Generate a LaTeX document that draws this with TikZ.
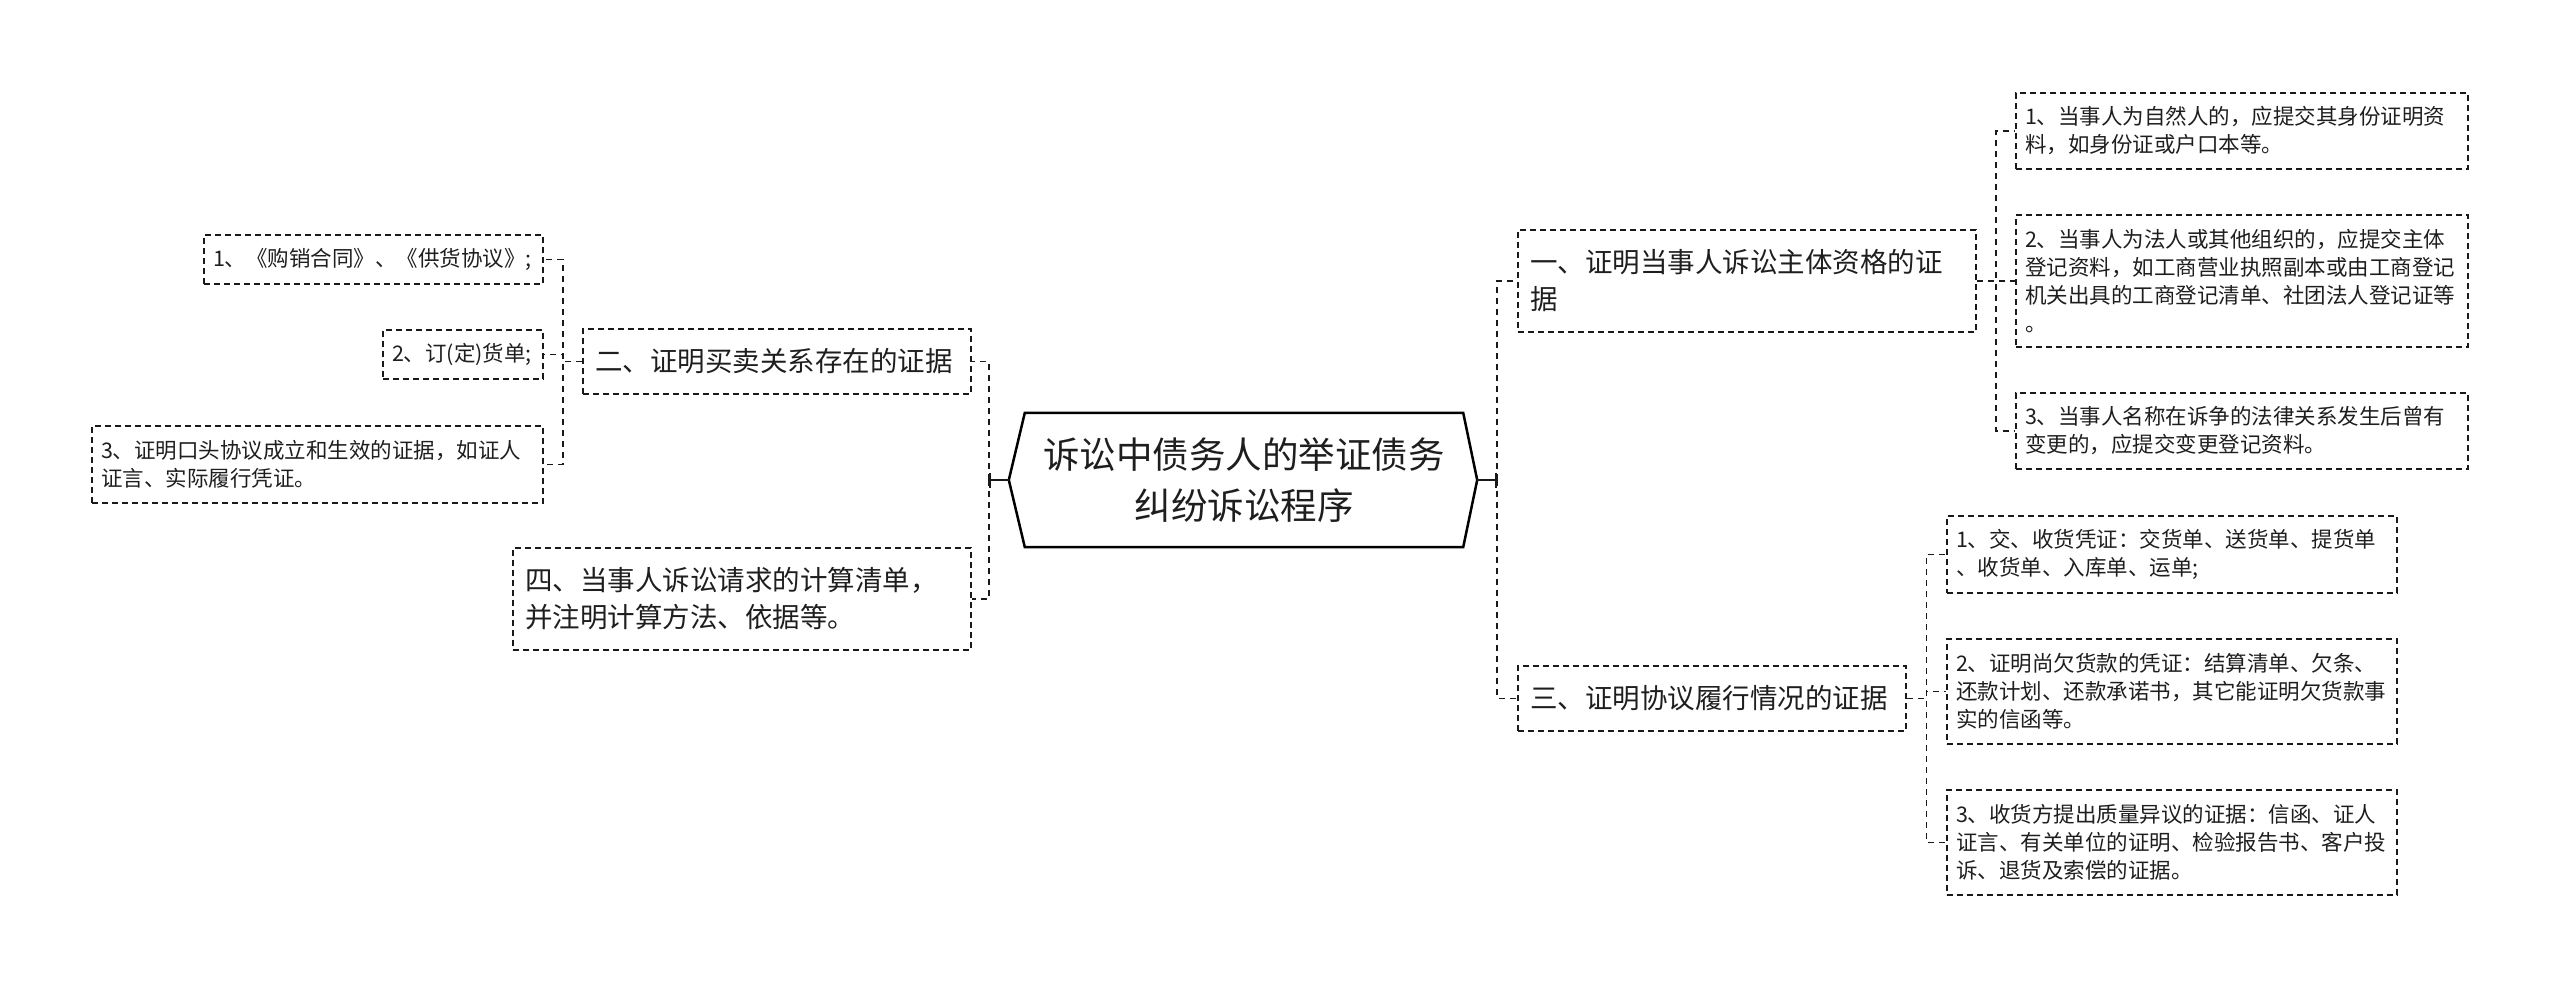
\documentclass[tikz,border=0pt]{standalone}
\usepackage{fontspec}
\setmainfont{Noto Sans CJK SC}
\usetikzlibrary{arrows.meta,positioning,calc}
\definecolor{myink}{RGB}{30,30,30}
\definecolor{myline}{RGB}{25,25,25}
\tikzset{
    link/.style     = {draw=myline, line width=1.8pt, dash pattern=on 6pt off 5pt},
    stem/.style     = {draw=myline, line width=2.2pt, -{Bar[width=15pt,line width=2pt]}},
    box/.style      = {draw=myline, line width=1.7pt, dash pattern=on 6pt off 4pt,
            text=myink, align=left, inner ysep=0pt},
    branch/.style   = {box, inner xsep=12pt, font=\fontsize{27.5}{37}\selectfont},
    leaf/.style     = {box, inner xsep=9pt, font=\fontsize{21.5}{28}\selectfont},
    rootbox/.style  = {text=myink, align=center, inner sep=0pt,
            font=\fontsize{36.5}{51}\selectfont},
    rootedge/.style = {draw=black, line width=2.5pt, line join=miter},
}

\begin{document}
\begin{tikzpicture}[x=1pt, y=-1pt]
    \useasboundingbox (0,0) rectangle (2560,987);

    % Root
    \node[rootbox, minimum width=438pt, minimum height=134pt] (root) at (1244,480)
        {诉讼中债务人的举证债务\\纠纷诉讼程序};
    \coordinate (rootL) at ($(root.west)+(-16,0)$);
    \coordinate (rootR) at ($(root.east)+(14,0)$);
    \draw[rootedge] (root.north west) -- (root.north east) -- (rootR)
        -- (root.south east) -- (root.south west) -- (rootL) -- cycle;
    \coordinate (jL) at ($(rootL)+(-20,0)$);
    \coordinate (jR) at ($(rootR)+(20,0)$);

    % Left branches
    \node[branch, text width=364pt, minimum height=65pt] (B2) at (777,361.5)
        {二、证明买卖关系存在的证据};
    \node[branch, text width=434pt, minimum height=102pt] (B4) at (742,599)
        {四、当事人诉讼请求的计算清单，\\并注明计算方法、依据等。};
    \node[leaf, text width=321pt, minimum height=49pt] (L1) at (373.5,259.5)
        {1、《购销合同》、《供货协议》;};
    \node[leaf, text width=142pt, minimum height=49pt] (L2) at (463,354.5)
        {2、订(定)货单;};
    \node[leaf, text width=433pt, minimum height=77pt] (L3) at (317.5,464.5)
        {3、证明口头协议成立和生效的证据，如证人\\证言、实际履行凭证。};

    % Right branches
    \node[branch, text width=434pt, minimum height=102pt] (B1) at (1747,281)
        {一、证明当事人诉讼主体资格的证\\据};
    \node[branch, text width=364pt, minimum height=65pt] (B3) at (1712,698.5)
        {三、证明协议履行情况的证据};
    \node[leaf, text width=434pt, minimum height=76pt] (R1a) at (2242,131)
        {1、当事人为自然人的，应提交其身份证明资\\料，如身份证或户口本等。};
    \node[leaf, text width=434pt, minimum height=132pt] (R1b) at (2242,281)
        {2、当事人为法人或其他组织的，应提交主体\\登记资料，如工商营业执照副本或由工商登记\\机关出具的工商登记清单、社团法人登记证等\\。};
    \node[leaf, text width=434pt, minimum height=76pt] (R1c) at (2242,431)
        {3、当事人名称在诉争的法律关系发生后曾有\\变更的，应提交变更登记资料。};
    \node[leaf, text width=432pt, minimum height=77pt] (R3a) at (2172,554.5)
        {1、交、收货凭证：交货单、送货单、提货单\\、收货单、入库单、运单;};
    \node[leaf, text width=432pt, minimum height=105pt] (R3b) at (2172,691.5)
        {2、证明尚欠货款的凭证：结算清单、欠条、\\还款计划、还款承诺书，其它能证明欠货款事\\实的信函等。};
    \node[leaf, text width=432pt, minimum height=105pt] (R3c) at (2172,842.5)
        {3、收货方提出质量异议的证据：信函、证人\\证言、有关单位的证明、检验报告书、客户投\\诉、退货及索偿的证据。};

    % Root connectors
    \draw[stem] (rootL) -- (jL);
    \draw[stem] (rootR) -- (jR);
    \draw[link] (jL) |- (B2.east);
    \draw[link] (jL) |- (B4.east);
    \draw[link] (jR) |- (B1.west);
    \draw[link] (jR) |- (B3.west);

    % Leaf connectors
    \draw[link] (B2.west) -| ($(B2.west)!.5!(L1.east)$) |- (L1.east);
    \draw[link] (B2.west) -| ($(B2.west)!.5!(L2.east)$) |- (L2.east);
    \draw[link] (B2.west) -| ($(B2.west)!.5!(L3.east)$) |- (L3.east);
    \draw[link] (B1.east) -| ($(B1.east)!.5!(R1a.west)$) |- (R1a.west);
    \draw[link] (B1.east) -| ($(B1.east)!.5!(R1b.west)$) |- (R1b.west);
    \draw[link] (B1.east) -| ($(B1.east)!.5!(R1c.west)$) |- (R1c.west);
    \draw[link] (B3.east) -| ($(B3.east)!.5!(R3a.west)$) |- (R3a.west);
    \draw[link] (B3.east) -| ($(B3.east)!.5!(R3b.west)$) |- (R3b.west);
    \draw[link] (B3.east) -| ($(B3.east)!.5!(R3c.west)$) |- (R3c.west);
\end{tikzpicture}
\end{document}
